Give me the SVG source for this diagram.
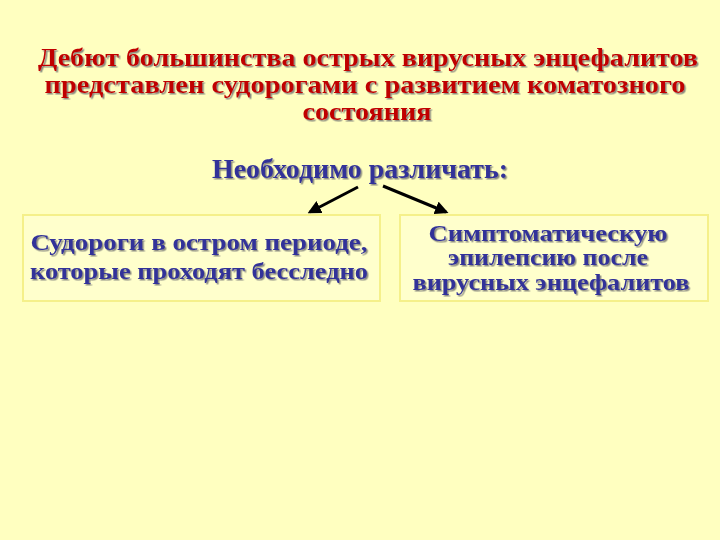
<svg xmlns="http://www.w3.org/2000/svg" width="720" height="540" viewBox="0 0 720 540">
<style>
.t{font-family:"Liberation Serif","Times New Roman",serif;font-weight:bold;text-anchor:middle}
.red{fill:#C00000;font-size:25px}
.blue{fill:#333399}
.box{fill:#FFFFCC;stroke:#F5F08A;stroke-width:2}
.conn{stroke:#000;stroke-width:3;fill:none;marker-end:url(#ah)}
</style>
<defs>
<filter id="sh" x="-5%" y="-20%" width="110%" height="140%">
<feDropShadow dx="1.5" dy="1.5" stdDeviation="0.6" flood-color="#707070" flood-opacity="0.8"/>
</filter>
<marker id="ah" viewBox="0 0 10 10" refX="8" refY="5" markerWidth="4.5" markerHeight="4.5" orient="auto" markerUnits="strokeWidth">
<path d="M0,0 L10,5 L0,10 z" fill="#000"/>
</marker>
</defs>
<rect width="720" height="540" fill="#FFFFC0"/>
<g id="title" filter="url(#sh)">
<text class="t red" x="368" y="66" textLength="660" lengthAdjust="spacingAndGlyphs">Дебют большинства острых вирусных энцефалитов</text>
<text class="t red" x="365" y="93" textLength="641" lengthAdjust="spacingAndGlyphs">представлен судорогами с развитием коматозного</text>
<text class="t red" x="367" y="120" textLength="129" lengthAdjust="spacingAndGlyphs">состояния</text>
</g>
<g id="root" filter="url(#sh)">
<text class="t blue" x="360" y="178" font-size="27" textLength="296" lengthAdjust="spacingAndGlyphs">Необходимо различать:</text>
</g>
<g id="connectors">
<line class="conn" x1="358" y1="187" x2="310" y2="212"/>
<line class="conn" x1="383" y1="186" x2="446" y2="212"/>
</g>
<g id="left">
<rect class="box" x="23" y="215" width="357" height="86"/>
<g filter="url(#sh)">
<text class="t blue" x="199" y="250" font-size="23" textLength="337" lengthAdjust="spacingAndGlyphs">Судороги в остром периоде,</text>
<text class="t blue" x="199" y="279" font-size="23" textLength="338" lengthAdjust="spacingAndGlyphs">которые проходят бесследно</text>
</g>
</g>
<g id="right">
<rect class="box" x="400" y="215" width="308" height="86"/>
<g filter="url(#sh)">
<text class="t blue" x="548" y="241" font-size="23" textLength="239" lengthAdjust="spacingAndGlyphs">Симптоматическую</text>
<text class="t blue" x="548" y="265" font-size="23" textLength="200" lengthAdjust="spacingAndGlyphs">эпилепсию после</text>
<text class="t blue" x="551" y="290" font-size="23" textLength="277" lengthAdjust="spacingAndGlyphs">вирусных энцефалитов</text>
</g>
</g>
</svg>
